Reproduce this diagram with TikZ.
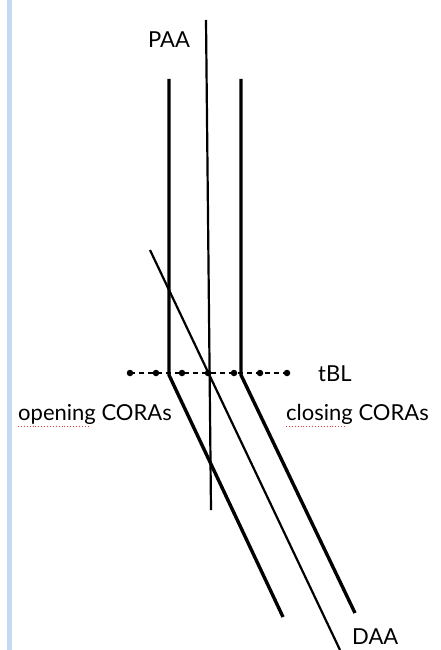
\documentclass[tikz,border=0pt]{standalone}
\usepackage{fontspec}
\setmainfont{Lato}
\definecolor{barblue}{RGB}{198,217,242}
\definecolor{squig}{RGB}{225,60,60}
\tikzset{
  thickline/.style={line width=3.4pt, line join=miter},
  thinline/.style={line width=2.2pt},
  dotmark/.style={circle, fill=black, inner sep=0pt, minimum size=6.5pt},
  lbl/.style={font=\fontsize{22}{26}\selectfont, inner sep=0pt},
  spell/.style={squig, line width=0.9pt, dotted}
}
\begin{document}
\begin{tikzpicture}[x=1pt,y=-1pt]
\useasboundingbox (0,0) rectangle (441,650);
\fill[white] (0,0) rectangle (441,650);
\fill[barblue] (7,0) rectangle (12,650);
% coordinates
\coordinate (Lt) at (169,79);
\coordinate (Lk) at (169,375);
\coordinate (Lb) at (283,617);
\coordinate (Rt) at (241,79);
\coordinate (Rk) at (241,375);
\coordinate (Rb) at (355,613);
\coordinate (Mt) at (206,20);
\coordinate (Mb) at (211,510);
\coordinate (St) at (150,250);
\coordinate (Sb) at (340,650);
% lines
\draw[thickline] (Lt) -- (Lk) -- (Lb);
\draw[thickline] (Rt) -- (Rk) -- (Rb);
\draw[thinline] (Mt) -- (Mb);
\draw[thinline] (St) -- (Sb);
% tBL dashed line with dots
\foreach \i/\x in {1/130,2/156,3/182,4/208,5/234,6/260,7/287}
  \node[dotmark] (d\i) at (\x,373) {};
\draw[line width=1.8pt, dash pattern=on 5pt off 4pt] (d1.center) -- (d7.center);
% labels
\node[lbl] (paa) at (169,40) {PAA};
\node[lbl, anchor=west] (tbl) at (318,374) {tBL};
\node[lbl, anchor=west] (open) at (18,414) {opening CORAs};
\node[lbl, anchor=west] (close) at (286,414) {closing CORAs};
\node[lbl, anchor=west] (daa) at (352,637) {DAA};
% spell-check underlines
\draw[spell] ([yshift=-2pt]open.south west) -- ++(72,0);
\draw[spell] ([yshift=-2pt]close.south west) -- ++(60,0);
\end{tikzpicture}
\end{document}
